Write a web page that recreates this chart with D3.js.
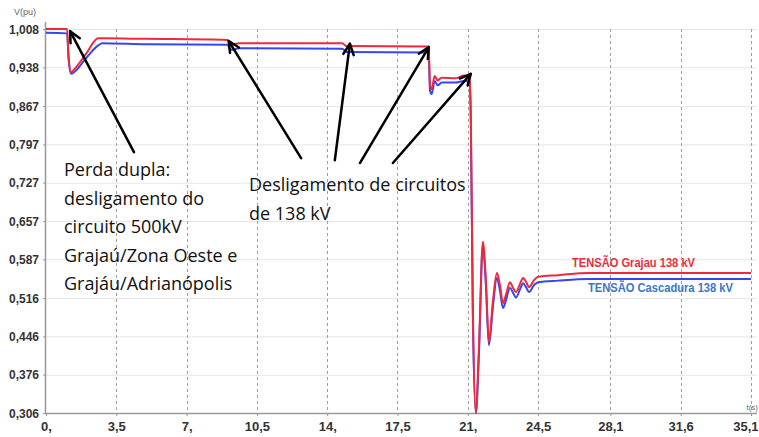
<!DOCTYPE html>
<html>
<head>
<meta charset="utf-8">
<script src="https://d3js.org/d3.v7.min.js"></script>
<style>
  html, body { margin: 0; padding: 0; background: #fff; }
  svg { display: block; }
</style>
</head>
<body>
<script>
// ---- data ----
const yTicks = [1.008, 0.938, 0.867, 0.797, 0.727, 0.657, 0.587, 0.516, 0.446, 0.376, 0.306];
const xTicks = [0, 3.5, 7, 10.5, 14, 17.5, 21, 24.5, 28.1, 31.6, 35.1];
const xTickLabels = ["0,", "3,5", "7,", "10,5", "14,", "17,5", "21,", "24,5", "28,1", "31,6", "35,1"];
const seriesNames = ["TENSÃO Grajau 138 kV", "TENSÃO Cascadura 138 kV"];
const time = [0, 1.05, 1.12, 1.25, 1.4, 2.0, 2.6, 2.8, 5.0, 9.05, 9.15, 9.3, 9.6, 14.75, 14.95, 19.05, 19.12, 19.2, 19.35, 19.5, 19.7, 20.4, 20.8, 21.1,
  21.15, 21.25, 21.4, 21.55, 21.75, 21.9, 22.05, 22.25, 22.45, 22.6, 22.75, 22.9, 23.1, 23.25, 23.4, 23.6, 23.75, 23.9, 24.05, 24.3, 24.5, 25.5, 27, 35.1];
const grajau = [1.008, 1.008, 0.960, 0.929, 0.934, 0.963, 0.991, 0.991, 0.990, 0.988, 0.981, 0.980, 0.982, 0.982, 0.977, 0.976, 0.905, 0.898, 0.922, 0.914, 0.919, 0.918, 0.923, 0.922,
  0.85, 0.50, 0.306, 0.42, 0.619, 0.55, 0.436, 0.51, 0.562, 0.54, 0.507, 0.522, 0.545, 0.535, 0.527, 0.542, 0.553, 0.546, 0.536, 0.549, 0.555, 0.558, 0.562, 0.562];
const cascadura = [1.001, 1.000, 0.955, 0.926, 0.929, 0.955, 0.978, 0.982, 0.980, 0.979, 0.971, 0.970, 0.973, 0.972, 0.966, 0.965, 0.895, 0.889, 0.913, 0.905, 0.910, 0.910, 0.913, 0.912,
  0.84, 0.49, 0.306, 0.41, 0.612, 0.54, 0.430, 0.50, 0.553, 0.53, 0.498, 0.512, 0.535, 0.526, 0.517, 0.532, 0.543, 0.536, 0.527, 0.540, 0.545, 0.548, 0.551, 0.551];
const annotation1 = ["Perda dupla:", "desligamento do", "circuito 500kV", "Grajaú/Zona Oeste e", "Grajáu/Adrianópolis"];
const annotation2 = ["Desligamento de circuitos", "de 138 kV"];

// ---- layout ----
const W = 759, H = 437;
const x = d3.scaleLinear().domain([0, 35.1]).range([46, 751]);
const y = d3.scaleLinear().domain([0.306, 1.008]).range([413, 29]);

const svg = d3.select("body").append("svg").attr("width", W).attr("height", H);
const tickFont = "Liberation Sans Narrow, Liberation Sans, Arial, sans-serif";

// horizontal grid
svg.append("g").selectAll("line").data(yTicks).join("line")
  .attr("x1", x(0)).attr("x2", 757)
  .attr("y1", d => y(d) + 0.5).attr("y2", d => y(d) + 0.5)
  .attr("stroke", "#e6e6e6").attr("stroke-width", 1);

// vertical dashed grid
svg.append("g").selectAll("line").data(xTicks.slice(1)).join("line")
  .attr("x1", d => Math.round(x(d)) + 0.5).attr("x2", d => Math.round(x(d)) + 0.5)
  .attr("y1", y(1.008)).attr("y2", y(0.306))
  .attr("stroke", "#a0a0a0").attr("stroke-width", 1).attr("stroke-dasharray", "3,3");

// axes
const yAxis = d3.axisLeft(y).tickValues(yTicks).tickSize(3).tickPadding(4)
  .tickFormat(d => d3.format(".3f")(d).replace(".", ","));
const gy = svg.append("g").attr("transform", `translate(${x(0)},0)`).call(yAxis);
gy.select(".domain").attr("d", `M-0.5,22V${y(0.306)}`).attr("stroke", "#999").attr("stroke-width", 1.5);
gy.selectAll(".tick line").attr("stroke", "#999");
gy.selectAll(".tick text").attr("font-family", tickFont)
  .attr("font-weight", "bold").attr("font-size", 13).attr("fill", "#333")
  .attr("textLength", 30).attr("lengthAdjust", "spacingAndGlyphs");

const xAxis = d3.axisBottom(x).tickValues(xTicks).tickSize(3).tickPadding(6)
  .tickFormat((d, i) => xTickLabels[i]);
const gx = svg.append("g").attr("transform", `translate(0,${y(0.306)})`).call(xAxis);
gx.select(".domain").attr("d", `M${x(0)},0.5H757`).attr("stroke", "#999").attr("stroke-width", 1.5);
gx.selectAll(".tick line").attr("stroke", "#999");
gx.selectAll(".tick text").attr("font-family", tickFont)
  .attr("font-weight", "bold").attr("font-size", 13).attr("fill", "#333");
// keep the last label inside the window
gx.selectAll(".tick text").filter((d, i) => i === xTicks.length - 1)
  .attr("text-anchor", "end").attr("dx", 7);

// axis titles
svg.append("text").attr("x", 14).attr("y", 15).text("V(pu)")
  .attr("font-family", "Liberation Sans, Arial, sans-serif").attr("font-size", 9).attr("fill", "#666");
svg.append("text").attr("x", 758).attr("y", 410).attr("text-anchor", "end").text("t(s)")
  .attr("font-family", "Liberation Sans, Arial, sans-serif").attr("font-size", 8).attr("fill", "#666");

// lines
const line = d3.line().x(d => x(d[0])).y(d => y(d[1])).curve(d3.curveMonotoneX);
const blueData = time.map((t, i) => [t, cascadura[i]]);
const redData = time.map((t, i) => [t, grajau[i]]);
svg.append("path").datum(blueData).attr("d", line).attr("fill", "none")
  .attr("stroke", "#3647f0").attr("stroke-width", 2).attr("stroke-linejoin", "round");
svg.append("path").datum(redData).attr("d", line).attr("fill", "none")
  .attr("stroke", "#f0283c").attr("stroke-width", 2).attr("stroke-linejoin", "round");

// legend labels
svg.append("text").attr("x", 572).attr("y", 267).text(seriesNames[0])
  .attr("font-family", tickFont)
  .attr("font-weight", "bold").attr("font-size", 13).attr("fill", "#e8303a")
  .attr("textLength", 123).attr("lengthAdjust", "spacingAndGlyphs");
svg.append("text").attr("x", 588).attr("y", 292).text(seriesNames[1])
  .attr("font-family", tickFont)
  .attr("font-weight", "bold").attr("font-size", 13).attr("fill", "#3a78c4")
  .attr("textLength", 145).attr("lengthAdjust", "spacingAndGlyphs");

// annotation texts
const annFont = "Open Sans, Noto Sans, sans-serif";
svg.append("g").selectAll("text").data(annotation1).join("text")
  .attr("x", 64).attr("y", (d, i) => 176 + i * 28.5).text(d => d)
  .attr("font-family", annFont).attr("font-size", 18).attr("fill", "#111");
svg.append("g").selectAll("text").data(annotation2).join("text")
  .attr("x", 249).attr("y", (d, i) => 191 + i * 28.5).text(d => d)
  .attr("font-family", annFont).attr("font-size", 18).attr("fill", "#111");

// arrows: [start t, start v, tip t, tip v]
const arrows = [
  [4.38, 0.783, 1.2, 1.004],
  [12.7, 0.772, 9.1, 0.986],
  [14.38, 0.768, 15.13, 0.981],
  [15.63, 0.763, 19.06, 0.975],
  [17.27, 0.763, 21.15, 0.926]
];
const ag = svg.append("g").attr("stroke", "#000").attr("stroke-width", 2.5)
  .attr("fill", "none").attr("stroke-linecap", "round").attr("stroke-linejoin", "round");
arrows.forEach(a => {
  const x1 = x(a[0]), y1 = y(a[1]), x2 = x(a[2]), y2 = y(a[3]);
  ag.append("line").attr("x1", x1).attr("y1", y1).attr("x2", x2).attr("y2", y2);
  const ang = Math.atan2(y2 - y1, x2 - x1);
  const L = 12, spread = 0.45;
  const p1 = [x2 - L * Math.cos(ang - spread), y2 - L * Math.sin(ang - spread)];
  const p2 = [x2 - L * Math.cos(ang + spread), y2 - L * Math.sin(ang + spread)];
  ag.append("path").attr("d", `M${p1[0]},${p1[1]}L${x2},${y2}L${p2[0]},${p2[1]}`);
});
</script>
</body>
</html>
